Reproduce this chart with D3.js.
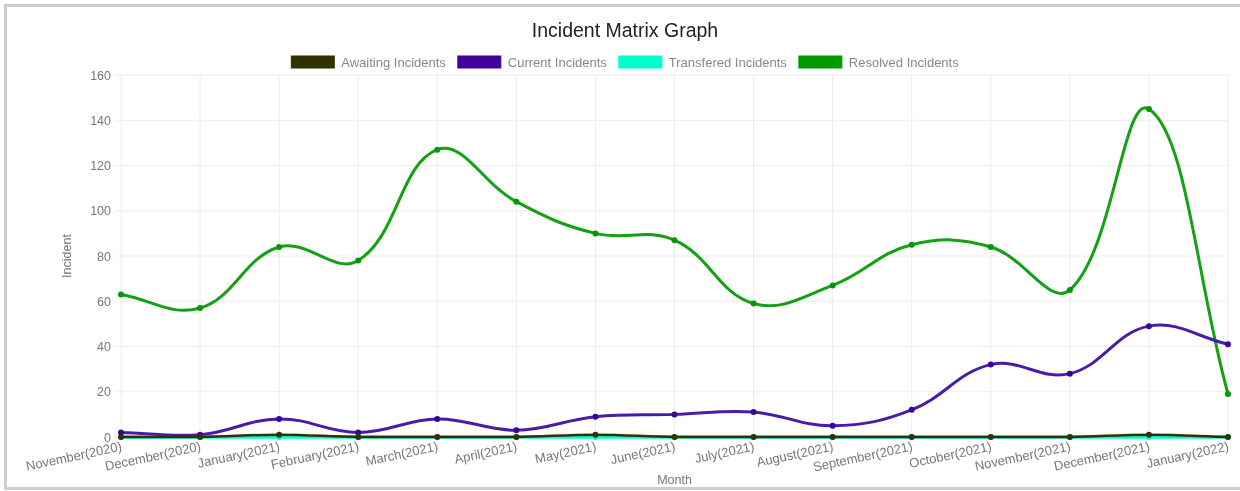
<!DOCTYPE html>
<html>
<head>
<meta charset="utf-8">
<script src="https://cdn.jsdelivr.net/npm/d3@7"></script>
<style>
  html, body { margin: 0; padding: 0; background: #fff; }
  svg { display: block; }
  text { font-family: "Liberation Sans", Arial, sans-serif; }
</style>
</head>
<body>
<svg id="chart" width="1240" height="491"></svg>
<script>
// Monthly labels along the x axis
const months = [
  "November(2020)", "December(2020)", "January(2021)", "February(2021)",
  "March(2021)", "April(2021)", "May(2021)", "June(2021)", "July(2021)",
  "August(2021)", "September(2021)", "October(2021)", "November(2021)",
  "December(2021)", "January(2022)"
];

// Incident counts per month, one array per series
const awaiting    = [0, 0, 1, 0, 0, 0, 1, 0, 0, 0, 0, 0, 0, 1, 0];
const current     = [2, 1, 8, 2, 8, 3, 9, 10, 11, 5, 12, 32, 28, 49, 41];
const transferred = [0, 0, 0, 0, 0, 0, 0, 0, 0, 0, 0, 0, 0, 0, 0];
const resolved    = [63, 57, 84, 78, 127, 104, 90, 87, 59, 67, 85, 84, 65, 145, 19];

const yTicks = [0, 20, 40, 60, 80, 100, 120, 140, 160];

const seriesNames  = ["Awaiting Incidents", "Current Incidents", "Transfered Incidents", "Resolved Incidents"];
const seriesColors = ["#333300", "#3f0099", "#00ffcc", "#009900"];
const lineColors   = ["#333300", "#4a1fa8", "#00ffcc", "#12a012"];
const seriesData   = [awaiting, current, transferred, resolved];

const W = 1240, H = 491;
const area = { left: 121, right: 1228, top: 75, bottom: 437 };
const FONT = "'Liberation Sans', Arial, sans-serif";

const svg = d3.select("#chart");
const defs = svg.append("defs");
defs.append("filter").attr("id", "soft")
  .attr("x", "-2%").attr("y", "-2%").attr("width", "104%").attr("height", "104%")
  .append("feGaussianBlur").attr("stdDeviation", 0.7);

const root = svg.append("g").attr("filter", "url(#soft)");

// Outer frame
root.append("rect")
  .attr("x", 5.5).attr("y", 5.5)
  .attr("width", W + 10).attr("height", H - 8)
  .attr("fill", "none")
  .attr("stroke", "#cdcdcd")
  .attr("stroke-width", 3);

const x = d3.scalePoint().domain(months).range([area.left, area.right]);
const y = d3.scaleLinear().domain([0, 160]).range([area.bottom, area.top]);

// Grid lines
const grid = root.append("g");
grid.selectAll("line.h").data(yTicks).join("line")
  .attr("class", "h")
  .attr("x1", area.left - 6).attr("x2", area.right)
  .attr("y1", d => y(d)).attr("y2", d => y(d))
  .attr("stroke", d => d === 0 ? "#cfcfcf" : "#ececec")
  .attr("stroke-width", 1);
grid.selectAll("line.v").data(months).join("line")
  .attr("class", "v")
  .attr("x1", d => x(d)).attr("x2", d => x(d))
  .attr("y1", area.top).attr("y2", area.bottom + 4)
  .attr("stroke", "#ececec")
  .attr("stroke-width", 1);

// Y axis labels
const yAxis = d3.axisLeft(y).tickValues(yTicks).tickSize(0).tickPadding(10);
const yG = root.append("g").attr("transform", `translate(${area.left},0)`).call(yAxis);
yG.select(".domain").remove();
yG.selectAll("text").attr("fill", "#777").style("font-size", "12.5px").style("font-family", FONT);

// X axis labels, rotated
const xAxis = d3.axisBottom(x).tickSize(0).tickPadding(0);
const xG = root.append("g").attr("transform", `translate(0,${area.bottom})`).call(xAxis);
xG.select(".domain").remove();
xG.selectAll("text")
  .attr("fill", "#777").style("font-size", "13px").style("font-family", FONT)
  .attr("text-anchor", "end")
  .attr("dy", "0.35em")
  .attr("y", 0)
  .attr("transform", "translate(0,9) rotate(-12)");

// Axis titles
root.append("text")
  .attr("x", (area.left + area.right) / 2).attr("y", 484)
  .attr("text-anchor", "middle").attr("fill", "#777").style("font-size", "12.5px")
  .text("Month");
root.append("text")
  .attr("transform", `translate(71,${(area.top + area.bottom) / 2}) rotate(-90)`)
  .attr("text-anchor", "middle").attr("fill", "#777").style("font-size", "12.5px")
  .text("Incident");

// Title
root.append("text")
  .attr("x", 625).attr("y", 37)
  .attr("text-anchor", "middle").attr("fill", "#222").style("font-size", "19.5px")
  .text("Incident Matrix Graph");

// Legend
const legend = root.append("g");
const boxW = 43, boxH = 12, gap = 12, textGap = 7;
const legItems = seriesNames.map((name, i) => ({ name, color: seriesColors[i] }));
const tmp = root.append("text").style("font-size", "13px");
const widths = legItems.map(d => { tmp.text(d.name); return tmp.node().getComputedTextLength(); });
tmp.remove();
const totalW = d3.sum(widths) + legItems.length * (boxW + textGap) + (legItems.length - 1) * gap;
let lx = 625 - totalW / 2;
legItems.forEach((d, i) => {
  const g = legend.append("g").attr("transform", `translate(${lx},56)`);
  g.append("rect").attr("width", boxW).attr("height", boxH)
    .attr("fill", d.color).attr("stroke", d.color).attr("stroke-width", 1);
  g.append("text").attr("x", boxW + textGap).attr("y", boxH / 2).attr("dy", "0.35em")
    .attr("fill", "#888").style("font-size", "13px").text(d.name);
  lx += boxW + textGap + widths[i] + gap;
});

// Spline through points with tension 0.4, control points kept inside the plot area
function splinePath(pts, tension) {
  const n = pts.length;
  const clamp = (v, lo, hi) => Math.max(lo, Math.min(hi, v));
  const cps = pts.map((p, i) => {
    const prev = pts[Math.max(0, i - 1)], next = pts[Math.min(n - 1, i + 1)];
    const d01 = Math.hypot(p[0] - prev[0], p[1] - prev[1]);
    const d12 = Math.hypot(next[0] - p[0], next[1] - p[1]);
    let s01 = d01 / (d01 + d12), s12 = d12 / (d01 + d12);
    if (!isFinite(s01)) s01 = 0;
    if (!isFinite(s12)) s12 = 0;
    const fa = tension * s01, fb = tension * s12;
    return {
      prev: [clamp(p[0] - fa * (next[0] - prev[0]), area.left, area.right),
             clamp(p[1] - fa * (next[1] - prev[1]), area.top, area.bottom)],
      next: [clamp(p[0] + fb * (next[0] - prev[0]), area.left, area.right),
             clamp(p[1] + fb * (next[1] - prev[1]), area.top, area.bottom)]
    };
  });
  const path = d3.path();
  path.moveTo(pts[0][0], pts[0][1]);
  for (let i = 1; i < n; i++) {
    const a = cps[i - 1].next, b = cps[i].prev;
    path.bezierCurveTo(a[0], a[1], b[0], b[1], pts[i][0], pts[i][1]);
  }
  return path.toString();
}

// Series drawn back to front so the first dataset sits on top
const strokeWidths = [2.5, 3, 3.5, 3];
const lines = root.append("g");
for (let s = seriesData.length - 1; s >= 0; s--) {
  const pts = seriesData[s].map((v, i) => [x(months[i]), y(v)]);
  const g = lines.append("g");
  g.append("path")
    .attr("d", splinePath(pts, 0.4))
    .attr("fill", "none")
    .attr("stroke", lineColors[s])
    .attr("stroke-width", strokeWidths[s]);
  g.selectAll("circle").data(seriesData[s]).join("circle")
    .attr("cx", (d, i) => x(months[i]))
    .attr("cy", d => y(d))
    .attr("r", 3)
    .attr("fill", seriesColors[s]);
}
</script>
</body>
</html>
